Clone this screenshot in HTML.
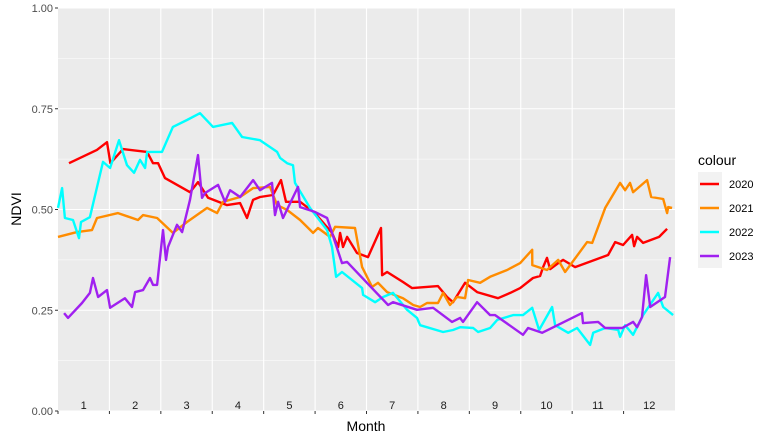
<!DOCTYPE html>
<html><head><meta charset="utf-8"><style>
body{margin:0;background:#fff;}
svg{display:block;font-family:"Liberation Sans",sans-serif;}
</style></head><body>
<svg id="chart" width="773" height="442">
<rect x="0" y="0" width="773" height="442" fill="#fff"/>
<rect x="58" y="8" width="617" height="403" fill="#ebebeb"/>
<g id="grid"></g>
<g id="months"></g>
<g id="series"></g>
<g id="axes"></g>
<text x="366" y="431" text-anchor="middle" font-size="14" fill="#000">Month</text>
<text transform="translate(21,209) rotate(-90)" text-anchor="middle" font-size="14" fill="#000">NDVI</text>
<g>
<text x="698" y="165" font-size="14" fill="#000">colour</text>
<rect x="698" y="172" width="24" height="96" fill="#f2f2f2"/>
<g id="legend"></g>
</g>
</svg>
<script>
const years=["2020","2021","2022","2023"];
const colors=["#ff0000","#ff8c00","#00ffff","#a020f0"];
const monthLabels=["1","2","3","4","5","6","7","8","9","10","11","12"];
const yTicks=[0,0.25,0.5,0.75,1];
const yTickLabels=["0.00","0.25","0.50","0.75","1.00"];
const days2020=[6.5,23,29,31,38.5,52.7,56.2,59.2,63.3,78.1,82.8,88.8,100,107.7,111.8,115.4,119.5,127.2,131.9,134.9,143.2,152,162.1,165.7,166.9,168.6,171,176.9,183.4,191.1,191.7,194.7,204.1,209.5,224.8,230.2,233.7,240.8,247.9,260.3,267.5,273.4,281,285.2,287,289.3,291.1,295.9,298.8,305.9,325.4,329.6,334.3,339.6,340.8,342.6,346.1,355.6,360.3];
const ndvi2020=[0.615,0.648,0.667,0.615,0.650,0.643,0.615,0.615,0.578,0.543,0.568,0.529,0.511,0.516,0.479,0.524,0.531,0.536,0.573,0.519,0.519,0.491,0.442,0.407,0.442,0.407,0.432,0.392,0.382,0.454,0.337,0.345,0.320,0.305,0.310,0.283,0.270,0.318,0.295,0.280,0.293,0.305,0.330,0.335,0.357,0.380,0.352,0.367,0.375,0.357,0.387,0.419,0.412,0.437,0.409,0.432,0.417,0.432,0.452];
const days2021=[0,11.2,20.1,23.1,35.5,47.3,50.3,58.6,68,76.3,88.2,94.1,97.6,107.7,115.4,125.4,129.6,135.5,143.2,150.9,153.8,160.9,163.9,175.7,179.9,185.8,189.3,194.7,204.1,210.1,214.2,218.3,224.8,227.8,231.9,236.1,240.8,242.6,249.7,255.6,265.7,273.4,280.5,280.6,289.3,295.9,300,313,316,323.7,332.5,335.5,338.4,340.2,348.5,350.9,358,360.3,361,363.3];
const ndvi2021=[0.432,0.444,0.449,0.479,0.491,0.474,0.486,0.479,0.442,0.469,0.504,0.491,0.519,0.531,0.553,0.556,0.511,0.499,0.474,0.442,0.454,0.432,0.457,0.454,0.357,0.308,0.318,0.295,0.280,0.263,0.258,0.268,0.268,0.293,0.263,0.283,0.280,0.325,0.318,0.333,0.350,0.367,0.400,0.362,0.350,0.375,0.345,0.419,0.417,0.504,0.566,0.548,0.566,0.543,0.573,0.531,0.526,0.491,0.506,0.504];
const days2022=[0,2.4,4.1,8.9,12.4,13.6,18.9,26.6,30.8,36.1,40.8,45,48.5,51.5,52.7,61.5,68,76.3,84,91.7,103,108.9,119.5,129.6,131.4,135.5,139,140.2,149.1,159.2,162.1,164.5,168,179.9,180.5,187.6,192.3,198.2,206.5,212.4,214.2,227.8,233.7,237.9,245.6,248.5,255.6,259.8,269.2,275.1,280.5,284.6,292.3,294.1,301.8,307.1,314.8,316.6,323.7,331.4,332.5,335.5,340.2,346.1,355,358,363.9];
const ndvi2022=[0.504,0.553,0.479,0.474,0.429,0.469,0.481,0.618,0.603,0.672,0.610,0.591,0.623,0.603,0.643,0.643,0.705,0.722,0.739,0.705,0.715,0.680,0.672,0.643,0.628,0.615,0.610,0.566,0.504,0.449,0.407,0.333,0.345,0.305,0.288,0.270,0.283,0.293,0.251,0.231,0.213,0.196,0.201,0.208,0.206,0.196,0.206,0.226,0.238,0.238,0.256,0.201,0.258,0.213,0.194,0.206,0.164,0.194,0.206,0.201,0.184,0.213,0.189,0.238,0.293,0.258,0.238];
const days2023=[3.6,5.9,14.2,18.9,20.7,23.7,29,30.8,39.6,43.8,45.6,50.3,54.4,56.2,58.6,62.1,63.9,65.1,70.4,73.4,78.1,82.8,85.2,87,94.7,98.8,101.8,107.7,115.4,119.5,126.6,128.4,130.2,133.1,142,143.2,152,159.2,168,171,195.3,198.2,212.4,221.9,233.1,237.9,239.6,247.9,255.6,258.6,273.4,275.1,278.1,286.4,310,310.6,319.5,323.7,333.7,340.2,342.6,345.5,347.9,350.3,359.1,362.1];
const ndvi2023=[0.243,0.231,0.268,0.293,0.330,0.283,0.300,0.256,0.280,0.258,0.295,0.300,0.330,0.313,0.313,0.449,0.375,0.407,0.462,0.444,0.524,0.635,0.529,0.541,0.561,0.519,0.548,0.531,0.573,0.548,0.566,0.486,0.519,0.479,0.556,0.506,0.494,0.479,0.367,0.370,0.263,0.270,0.251,0.256,0.221,0.231,0.221,0.270,0.238,0.238,0.194,0.189,0.206,0.194,0.243,0.218,0.221,0.206,0.206,0.221,0.208,0.233,0.337,0.258,0.283,0.382];
const allDays=[days2020,days2021,days2022,days2023];
const allNdvi=[ndvi2020,ndvi2021,ndvi2022,ndvi2023];

const NS="http://www.w3.org/2000/svg";
const X0=58,X1=675,Y0=411,Y1=8;
function xs(d){return X0+d*(X1-X0)/365;}
function ys(v){return Y0-v*(Y0-Y1);}
function mk(tag,attrs,parent){const e=document.createElementNS(NS,tag);for(const k in attrs)e.setAttribute(k,attrs[k]);parent.appendChild(e);return e;}
const grid=document.getElementById('grid');
for(let i=0;i<4;i++){
  const v=(yTicks[i]+yTicks[i+1])/2;
  const l=mk('line',{x1:X0,x2:X1,y1:ys(v),y2:ys(v),stroke:'#fff','stroke-width':0.55},grid);
  
  
}
yTicks.forEach(v=>{
  const l=mk('line',{x1:X0,x2:X1,y1:ys(v),y2:ys(v),stroke:'#fff','stroke-width':1.1},grid);
  
  
});
const mw=365/12;
for(let i=1;i<12;i++){
  const l=mk('line',{x1:xs(i*mw),x2:xs(i*mw),y1:Y1,y2:Y0,stroke:'#fff','stroke-width':1.1},grid);
  
  
}
const mg=document.getElementById('months');
monthLabels.forEach((m,i)=>{
  const t=mk('text',{x:xs(i*mw+mw/2),y:409,'text-anchor':'middle','font-size':11,fill:'#1a1a1a'},mg);
  t.textContent=m;
  
  
});
const sg=document.getElementById('series');
allDays.forEach((ds,k)=>{
  const pts=ds.map((d,i)=>xs(d).toFixed(1)+','+ys(allNdvi[k][i]).toFixed(1)).join(' ');
  const p=mk('polyline',{points:pts,fill:'none',stroke:colors[k],'stroke-width':2.4,'stroke-linejoin':'round'},sg);
  
  
});
const ax=document.getElementById('axes');
yTicks.forEach((v,i)=>{
  const l=mk('line',{x1:X0-3,x2:X0,y1:ys(v),y2:ys(v),stroke:'#333','stroke-width':1},ax);
  
  
  const t=mk('text',{x:X0-5,y:ys(v)+4,'text-anchor':'end','font-size':11,fill:'#4d4d4d'},ax);
  t.textContent=yTickLabels[i];
  
  
});
for(let i=0;i<12;i++){
  const l=mk('line',{x1:xs(i*mw),x2:xs(i*mw),y1:Y0,y2:Y0+3,stroke:'#333','stroke-width':1},ax);
  
  
}
const lg=document.getElementById('legend');
years.forEach((y,i)=>{
  const cy=184+i*24;
  const l=mk('line',{x1:700,x2:719,y1:cy,y2:cy,stroke:colors[i],'stroke-width':2.4},lg);
  
  
  const t=mk('text',{x:729,y:cy+4,'font-size':11,fill:'#000'},lg);
  t.textContent=y;
  
  
});
</script>
</body></html>
